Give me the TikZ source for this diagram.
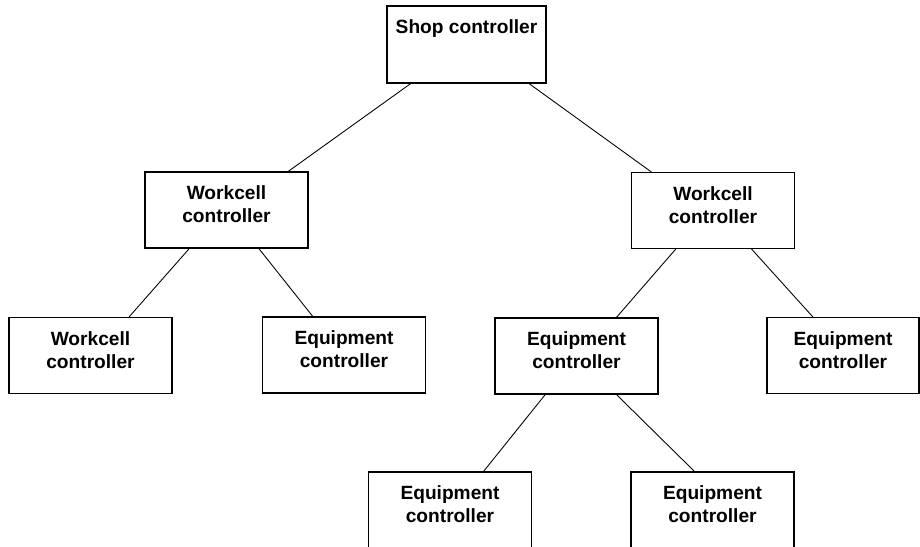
\documentclass[tikz,border=0pt]{standalone}
\usepackage{fontspec}
\setmainfont{Liberation Sans}
\usepackage{tikz}

\begin{document}
\begin{tikzpicture}[
  x=0.02cm, y=-0.02cm,
  box/.style={draw, line width=0.6pt, minimum width=3.26cm, minimum height=1.52cm, inner sep=0pt},
  boxtext/.style={anchor=north, inner sep=0pt, yshift=-0.28cm, align=center,
    font=\bfseries\fontsize{10.9}{13.1}\selectfont},
  link/.style={line width=0.5pt}
]
\clip (0,0) rectangle (920,547);

\node[box, minimum width=3.18cm, minimum height=1.54cm,
  label={[boxtext]north:Shop controller}] (shop) at (466.5,44.5) {};

\node[box, label={[boxtext]north:Workcell\\controller}] (cellL) at (226.5,210) {};
\node[box, label={[boxtext]north:Workcell\\controller}] (cellR) at (713,210.5) {};

\node[box, label={[boxtext]north:Workcell\\controller}] (cellLL) at (90.5,355.5) {};
\node[box, label={[boxtext]north:Equipment\\controller}] (equipL) at (344,355) {};
\node[box, label={[boxtext]north:Equipment\\controller}] (equipM) at (576.5,356) {};
\node[box, minimum width=3.04cm,
  label={[boxtext]north:Equipment\\controller}] (equipR) at (843,355.5) {};

\node[box, label={[boxtext]north:Equipment\\controller}] (subL) at (450,510) {};
\node[box, label={[boxtext]north:Equipment\\controller}] (subR) at (712.5,510) {};

\draw[link] (shop.215.7) -- (cellL.32.1);
\draw[link] (shop.328) -- (cellR.148.4);
\draw[link] (cellL.226.9) -- (cellLL.45);
\draw[link] (cellL.310.5) -- (equipL.129.2);
\draw[link] (cellR.226.7) -- (equipM.44.6);
\draw[link] (cellR.315.1) -- (equipR.128.7);
\draw[link] (equipM.231.7) -- (subL.49);
\draw[link] (equipM.316.5) -- (subR.115.3);
\end{tikzpicture}
\end{document}
